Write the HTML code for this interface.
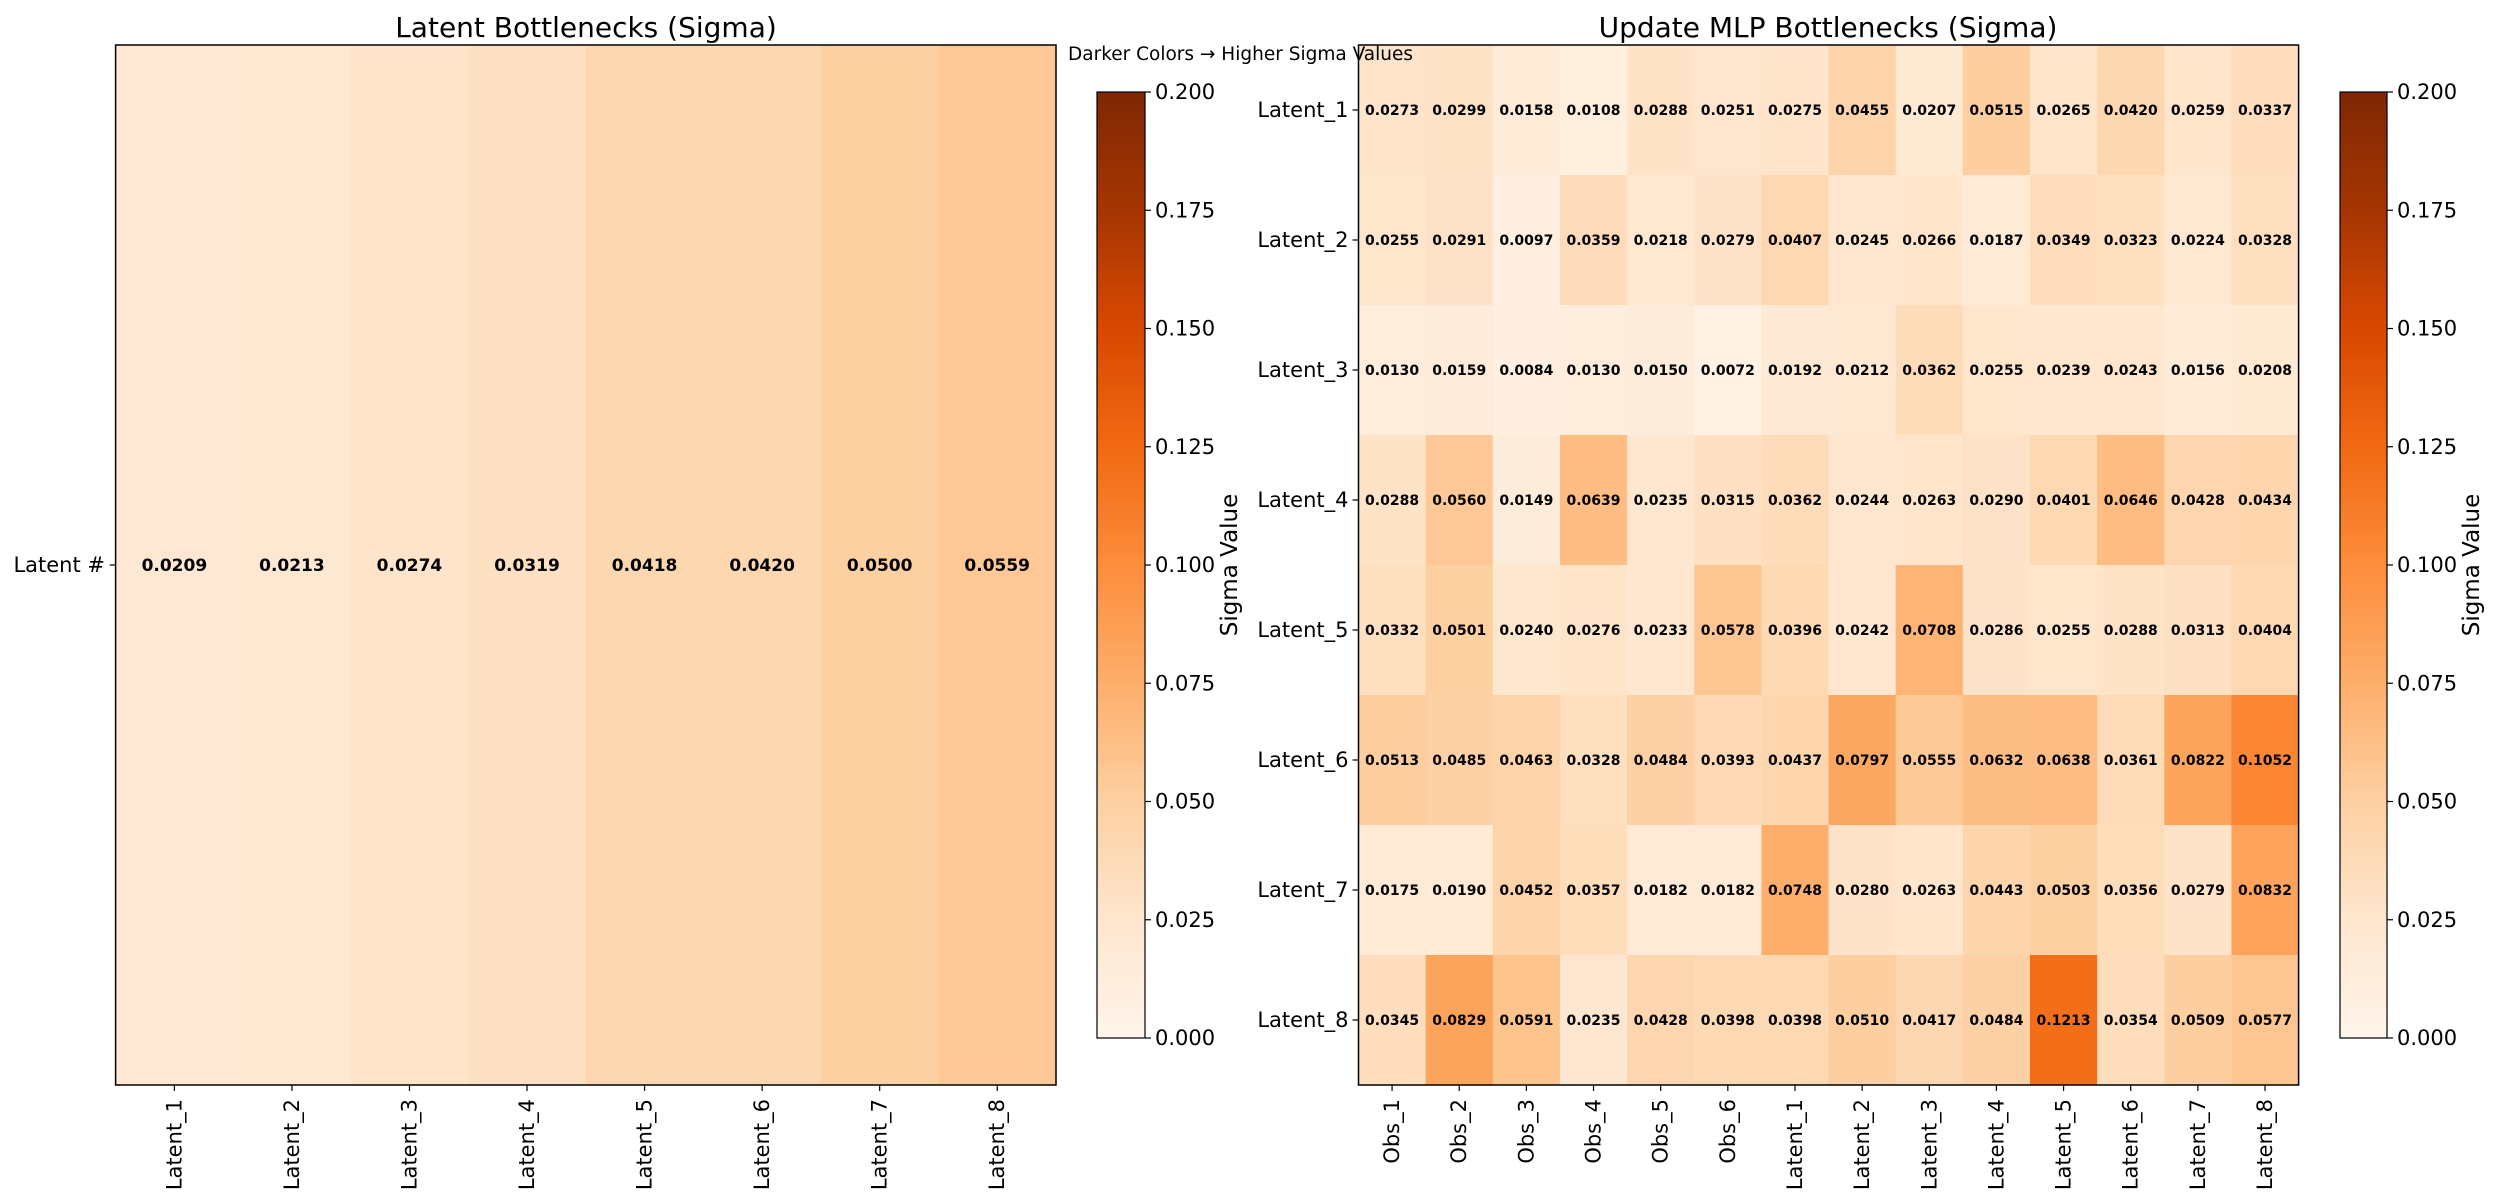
<!DOCTYPE html>
<html><head><meta charset="utf-8"><style>
html,body{margin:0;padding:0;background:#fff;}
svg{display:block;font-family:"DejaVu Sans","Liberation Sans",sans-serif;}
</style></head><body>
<svg id="chart" width="2500" height="1200" viewBox="0 0 2500 1200"></svg>
<script>
const leftCats = ["Latent_1","Latent_2","Latent_3","Latent_4","Latent_5","Latent_6","Latent_7","Latent_8"];
const leftValues = [0.0209,0.0213,0.0274,0.0319,0.0418,0.0420,0.0500,0.0559];
const rightCols = ["Obs_1","Obs_2","Obs_3","Obs_4","Obs_5","Obs_6","Latent_1","Latent_2","Latent_3","Latent_4","Latent_5","Latent_6","Latent_7","Latent_8"];
const rightRows = ["Latent_1","Latent_2","Latent_3","Latent_4","Latent_5","Latent_6","Latent_7","Latent_8"];
const row1 = [0.0273,0.0299,0.0158,0.0108,0.0288,0.0251,0.0275,0.0455,0.0207,0.0515,0.0265,0.0420,0.0259,0.0337];
const row2 = [0.0255,0.0291,0.0097,0.0359,0.0218,0.0279,0.0407,0.0245,0.0266,0.0187,0.0349,0.0323,0.0224,0.0328];
const row3 = [0.0130,0.0159,0.0084,0.0130,0.0150,0.0072,0.0192,0.0212,0.0362,0.0255,0.0239,0.0243,0.0156,0.0208];
const row4 = [0.0288,0.0560,0.0149,0.0639,0.0235,0.0315,0.0362,0.0244,0.0263,0.0290,0.0401,0.0646,0.0428,0.0434];
const row5 = [0.0332,0.0501,0.0240,0.0276,0.0233,0.0578,0.0396,0.0242,0.0708,0.0286,0.0255,0.0288,0.0313,0.0404];
const row6 = [0.0513,0.0485,0.0463,0.0328,0.0484,0.0393,0.0437,0.0797,0.0555,0.0632,0.0638,0.0361,0.0822,0.1052];
const row7 = [0.0175,0.0190,0.0452,0.0357,0.0182,0.0182,0.0748,0.0280,0.0263,0.0443,0.0503,0.0356,0.0279,0.0832];
const row8 = [0.0345,0.0829,0.0591,0.0235,0.0428,0.0398,0.0398,0.0510,0.0417,0.0484,0.1213,0.0354,0.0509,0.0577];
const rightValues = [row1,row2,row3,row4,row5,row6,row7,row8];
const cbTicks = [0.000,0.025,0.050,0.075,0.100,0.125,0.150,0.175,0.200];
const VMIN = 0, VMAX = 0.2;

const NS = "http://www.w3.org/2000/svg";
const svg = document.getElementById("chart");
const stops = ["#fff5eb","#fee6ce","#fdd0a2","#fdae6b","#fd8d3c","#f16913","#d94801","#a63603","#7f2704"];
function hex(h){return [1,3,5].map(i=>parseInt(h.substr(i,2),16));}
const stopRGB = stops.map(hex);
function cmap(v){
  let t = Math.max(0,Math.min(1,(v-VMIN)/(VMAX-VMIN)))*(stops.length-1);
  let i = Math.min(stops.length-2, Math.floor(t)); let f = t-i;
  const a=stopRGB[i], b=stopRGB[i+1];
  return "rgb("+a.map((c,k)=>Math.round(c+(b[k]-c)*f)).join(",")+")";
}
function el(tag, attrs, parent){
  const e = document.createElementNS(NS, tag);
  for (const k in attrs) e.setAttribute(k, attrs[k]);
  (parent||svg).appendChild(e); return e;
}
function txt(s, attrs, parent){const e = el("text", attrs, parent); e.textContent = s; return e;}

// ---------- Left heatmap ----------
const L = {x0:115.6, x1:1056, y0:45, y1:1085};
const lx = i => L.x0 + (L.x1-L.x0)/leftValues.length * i;
const lw = (L.x1-L.x0)/leftValues.length;
const gL = el("g", {});


leftValues.forEach((v,i)=>{
  const r = el("rect",{x:lx(i),y:L.y0,width:lw+0.5,height:L.y1-L.y0,fill:cmap(v)},gL);
  
  
  const t = txt(v.toFixed(4),{x:lx(i)+lw/2,y:(L.y0+L.y1)/2+6,"text-anchor":"middle","font-size":"17","font-weight":"bold",fill:"#000"},gL);
  
  
  el("line",{x1:lx(i)+lw/2,x2:lx(i)+lw/2,y1:L.y1,y2:L.y1+6,stroke:"#000","stroke-width":1.2},gL);
  const tl = txt(leftCats[i],{transform:`translate(${lx(i)+lw/2+7},${L.y1+14}) rotate(-90)`,"text-anchor":"end","font-size":"21",fill:"#000"},gL);
  
  
});
el("rect",{x:L.x0,y:L.y0,width:L.x1-L.x0,height:L.y1-L.y0,fill:"none",stroke:"#000","stroke-width":1.5},gL);
el("line",{x1:L.x0-6,x2:L.x0,y1:(L.y0+L.y1)/2,y2:(L.y0+L.y1)/2,stroke:"#000","stroke-width":1.2},gL);

const t1 = txt("Latent #",{x:105,y:572,"text-anchor":"end","font-size":"21",fill:"#000"});


const t2 = txt("Latent Bottlenecks (Sigma)",{x:586,y:37,"text-anchor":"middle","font-size":"28",fill:"#000"});


const t3 = txt("Update MLP Bottlenecks (Sigma)",{x:1828,y:37,"text-anchor":"middle","font-size":"28",fill:"#000"});



// ---------- Right heatmap ----------
const R = {x0:1358.5, x1:2298.6, y0:45, y1:1085};
const cw = (R.x1-R.x0)/rightCols.length, ch = (R.y1-R.y0)/rightRows.length;
const rx = j => R.x0 + cw*j, ry = i => R.y0 + ch*i;
const gR = el("g",{});


rightValues.forEach((row,i)=>{
  row.forEach((v,j)=>{
    const r = el("rect",{x:rx(j),y:ry(i),width:cw+0.5,height:ch+0.5,fill:cmap(v)},gR);
    
    
    const t = txt(v.toFixed(4),{x:rx(j)+cw/2,y:ry(i)+ch/2+5,"text-anchor":"middle","font-size":"14","font-weight":"bold",fill:"#000"},gR);
    
    
  });
  el("line",{x1:R.x0-6,x2:R.x0,y1:ry(i)+ch/2,y2:ry(i)+ch/2,stroke:"#000","stroke-width":1.2},gR);
  const yl = txt(rightRows[i],{x:R.x0-10,y:ry(i)+ch/2+7,"text-anchor":"end","font-size":"21",fill:"#000"},gR);
  
  
});
rightCols.forEach((c,j)=>{
  el("line",{x1:rx(j)+cw/2,x2:rx(j)+cw/2,y1:R.y1,y2:R.y1+6,stroke:"#000","stroke-width":1.2},gR);
  const tl = txt(c,{transform:`translate(${rx(j)+cw/2+7},${R.y1+14}) rotate(-90)`,"text-anchor":"end","font-size":"21",fill:"#000"},gR);
  
  
});
el("rect",{x:R.x0,y:R.y0,width:R.x1-R.x0,height:R.y1-R.y0,fill:"none",stroke:"#000","stroke-width":1.5},gR);

// ---------- Colorbars ----------
function colorbar(x0,x1,y0,y1,labelX,name){
  const g = el("g",{});
  
  
  const cy = v => y1 - (v-VMIN)/(VMAX-VMIN)*(y1-y0);
  const N = 200;
  for(let k=0;k<N;k++){
    const v0 = VMIN+(VMAX-VMIN)*k/N, v1 = VMIN+(VMAX-VMIN)*(k+1)/N;
    el("rect",{x:x0,y:cy(v1),width:x1-x0,height:cy(v0)-cy(v1)+0.6,fill:cmap((v0+v1)/2)},g);
  }
  el("rect",{x:x0,y:y0,width:x1-x0,height:y1-y0,fill:"none",stroke:"#000","stroke-width":1.2},g);
  cbTicks.forEach(v=>{
    el("line",{x1:x1,x2:x1+6,y1:cy(v),y2:cy(v),stroke:"#000","stroke-width":1.2},g);
    const t = txt(v.toFixed(3),{x:x1+10,y:cy(v)+7,"font-size":"21",fill:"#000"},g);
    
    
  });
  const lb = txt("Sigma Value",{transform:`translate(${labelX},${(y0+y1)/2}) rotate(-90)`,"text-anchor":"middle","font-size":"23",fill:"#000"},g);
  
  
}
colorbar(1097,1145,92,1038,1237,'left-colorbar');
colorbar(2340,2387,92,1038,2479,'right-colorbar');

const t4 = txt("Darker Colors \u2192 Higher Sigma Values",{x:1068,y:60,"font-size":"18.5",fill:"#000"});


</script>
</body></html>
